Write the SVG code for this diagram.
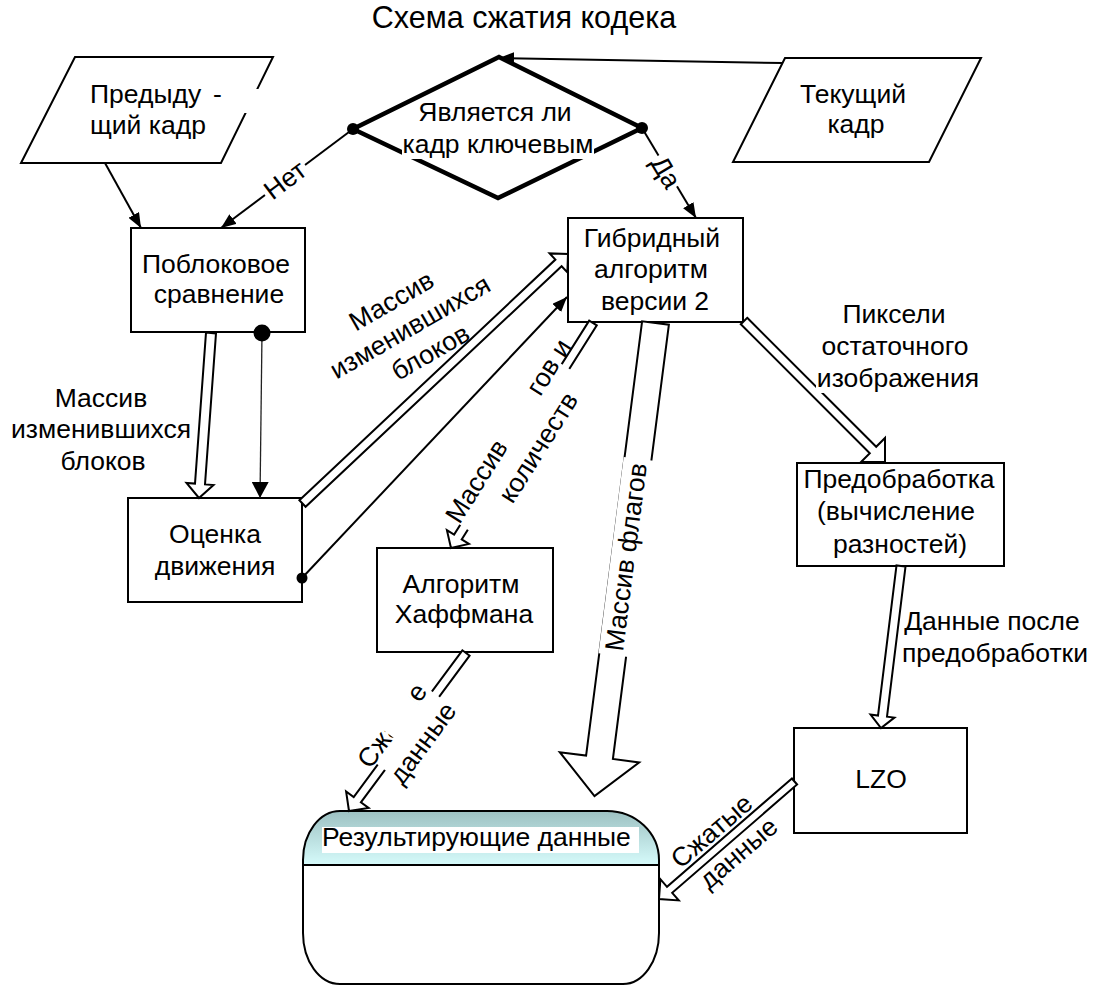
<svg xmlns="http://www.w3.org/2000/svg" width="1099" height="985" viewBox="0 0 1099 985">
  <defs>
    <style>
      .t { font-family: "Liberation Sans", Arial, sans-serif; font-size: 26.5px; fill: #000; }
      .m { text-anchor: middle; }
      .box { fill: #fff; stroke: #000; stroke-width: 2; }
      .wire { fill: none; stroke: #000; stroke-width: 2; }
      .thin { fill: none; stroke: #222; stroke-width: 1.3; }
      .hollow { fill: #fff; stroke: #000; stroke-width: 2; stroke-linejoin: miter; }
      .bg { fill: #fff; }
      .dot { fill: #000; }
    </style>
    <marker id="head" markerUnits="userSpaceOnUse" viewBox="0 0 15 12" refX="15" refY="6" markerWidth="15" markerHeight="12" orient="auto">
      <path d="M0,0 L15,6 L0,12 Z" fill="#000"/>
    </marker>
    <marker id="headBig" markerUnits="userSpaceOnUse" viewBox="0 0 16 17" refX="16" refY="8.5" markerWidth="16" markerHeight="17" orient="auto">
      <path d="M0,0 L16,8.5 L0,17 Z" fill="#000"/>
    </marker>
    <linearGradient id="capFill" x1="0" y1="0" x2="0" y2="1">
      <stop offset="0" stop-color="#9dc1c2"/>
      <stop offset="1" stop-color="#d6fbfb"/>
    </linearGradient>
    <clipPath id="clipFlagsLine">
      <path d="M-160,-60H-15V60H-160Z M47,-60H160V60H47Z"/>
    </clipPath>
    <clipPath id="clipSqueezedLine">
      <path d="M-90,-60H-9V60H-90Z M33,-60H90V60H33Z"/>
    </clipPath>
  </defs>

  <rect width="1099" height="985" fill="#fff"/>

  <text class="t m" x="524" y="28" style="font-size:30.5px">Схема сжатия кодека</text>

  <!-- nodes -->
  <g id="prev-frame">
    <polygon class="box" points="75,57 273,57 221,163 21,163"/>
    <rect class="bg" x="86" y="89" width="174" height="24"/>
    <text class="t" x="90" y="103">Предыду <tspan x="213">-</tspan></text>
    <text class="t" x="90" y="134">щий кадр</text>
  </g>

  <g id="is-key-frame">
    <polygon points="499,57 642,128 498,198 353,129" fill="#fff" stroke="#000" stroke-width="4.5" stroke-linejoin="miter"/>
    <rect class="bg" x="402" y="134" width="192" height="25"/>
    <text class="t m" x="495" y="121">Является ли</text>
    <text class="t m" x="498" y="153">кадр ключевым</text>
  </g>

  <g id="current-frame">
    <polygon class="box" points="785,58 981,58 929,162 733,162"/>
    <text class="t m" x="853" y="103">Текущий</text>
    <text class="t m" x="856" y="133">кадр</text>
  </g>

  <g id="block-compare">
    <rect class="box" x="131" y="228" width="174" height="104"/>
    <text class="t m" x="216" y="273">Поблоковое</text>
    <text class="t m" x="219" y="303">сравнение</text>
  </g>

  <g id="motion-estimation">
    <rect class="box" x="128" y="498" width="174" height="104"/>
    <text class="t m" x="215" y="543">Оценка</text>
    <text class="t m" x="215" y="575">движения</text>
  </g>

  <g id="hybrid-algorithm">
    <rect class="box" x="568" y="218" width="175" height="104"/>
    <text class="t m" x="652" y="247">Гибридный</text>
    <text class="t m" x="651" y="278">алгоритм</text>
    <text class="t m" x="655" y="310">версии 2</text>
  </g>

  <g id="huffman">
    <rect class="box" x="377" y="548" width="176" height="104"/>
    <text class="t m" x="461" y="593">Алгоритм</text>
    <text class="t m" x="464" y="623">Хаффмана</text>
  </g>

  <g id="preprocessing">
    <rect class="box" x="797" y="463" width="207" height="103"/>
    <text class="t m" x="899" y="488">Предобработка</text>
    <text class="t m" x="896" y="520">(вычисление</text>
    <text class="t m" x="900" y="553">разностей)</text>
  </g>

  <g id="lzo">
    <rect class="box" x="794" y="728" width="173" height="105"/>
    <text class="t m" x="881" y="788">LZO</text>
  </g>

  <g id="result-data">
    <path d="M303,860 A37,49 0 0 1 340,811 H607 A52,49 0 0 1 659,860 V933 A36,51 0 0 1 623,984 H340 A37,51 0 0 1 303,933 Z" fill="#fff"/>
    <path d="M303,865 V860 A37,49 0 0 1 340,811 H607 A52,49 0 0 1 659,860 V865 Z" fill="url(#capFill)"/>
    <path d="M303,860 A37,49 0 0 1 340,811 H607 A52,49 0 0 1 659,860 V933 A36,51 0 0 1 623,984 H340 A37,51 0 0 1 303,933 Z" fill="none" stroke="#000" stroke-width="2"/>
    <line x1="303" y1="865" x2="659" y2="865" stroke="#000" stroke-width="2"/>
    <rect class="bg" x="322" y="827" width="317" height="26"/>
    <text class="t" x="322" y="846">Результирующие данные</text>
  </g>

  <!-- connectors -->
  <g id="connectors">
    <!-- plain arrows -->
    <line class="wire" x1="105" y1="163" x2="141" y2="228" marker-end="url(#head)"/>
    <line class="wire" x1="353" y1="129" x2="221" y2="228" marker-end="url(#head)"/>
    <line class="wire" x1="642" y1="128" x2="696" y2="218" marker-end="url(#head)"/>
    <line class="wire" x1="783" y1="63" x2="499" y2="58" marker-end="url(#head)"/>
    <line class="wire" x1="302" y1="578" x2="567" y2="297" marker-end="url(#head)"/>
    <line class="thin" x1="262" y1="333" x2="260" y2="498" marker-end="url(#headBig)"/>

    <!-- block arrows -->
    <path class="hollow" d="M206,332.6 L195,483.6 L186.5,483 L199,498 L213.5,485 L205,484.4 L216,333.4 Z"/>
    <path class="hollow" d="M299.4,500.2 L555.4,259.6 L549.6,253.4 L568,254 L567.4,272.4 L561.6,266.2 L305.6,506.8 Z"/>
    <path class="hollow" d="M589.2,320.6 L454.1,534.6 L446.9,530.1 L451,548 L468.9,543.9 L461.7,539.4 L596.8,325.4 Z"/>
    <path class="hollow" d="M747.2,317.8 L876.2,446.8 L885,438 L885,462 L861,462 L869.8,453.2 L740.8,324.2 Z"/>
    <path class="hollow" d="M896.5,565.4 L878,715.6 L870.6,714.6 L881,728 L894.4,717.6 L887,716.7 L905.5,566.6 Z"/>
    <path class="hollow" d="M791.9,778.5 L667,886.8 L660.4,879.2 L659,899 L678.8,900.4 L672.2,892.8 L797.1,784.5 Z"/>
    <path class="hollow" d="M462.4,650.3 L353.7,797 L346.1,791.4 L349,811 L368.6,808 L360.9,802.4 L469.6,655.7 Z"/>
    <path class="hollow" d="M642.1,321.3 L586.1,755.6 L559.8,752.2 L594.5,796 L639.2,762.4 L612.9,759 L668.9,324.7 Z"/>

    <!-- labels -->
    <g transform="translate(285,180) rotate(-37)">
      <rect class="bg" x="-25" y="-13" width="50" height="26"/>
      <text class="t m" x="0" y="9">Нет</text>
    </g>
    <g transform="translate(666,172) rotate(59)">
      <rect class="bg" x="-18" y="-13" width="36" height="26"/>
      <text class="t m" x="0" y="9">Да</text>
    </g>

    <text class="t m" x="101" y="407">Массив</text>
    <text class="t m" x="101" y="438">изменившихся</text>
    <text class="t m" x="103" y="470">блоков</text>

    <g transform="translate(410,327) rotate(-30)">
      <text class="t m" x="-3" y="-23">Массив</text>
      <text class="t m" x="0" y="9">изменившихся</text>
      <text class="t m" x="5" y="41">блоков</text>
    </g>

    <g transform="translate(521,439) rotate(-57.7)">
      <rect class="bg" x="-105" y="-32" width="190" height="66"/>
      <text class="t m" x="0" y="-6" clip-path="url(#clipFlagsLine)">Массив флагов и</text>
      <text class="t m" x="2" y="28">количеств</text>
    </g>

    <g transform="translate(626,557) rotate(-82.7)">
      <rect class="bg" x="-99" y="-15" width="198" height="30"/>
      <text class="t m" x="0" y="9">Массив флагов</text>
    </g>

    <rect class="bg" x="816" y="300" width="164" height="93"/>
    <text class="t m" x="894" y="323">Пиксели</text>
    <text class="t m" x="895" y="355">остаточного</text>
    <text class="t m" x="898" y="387">изображения</text>

    <text class="t m" x="992" y="630">Данные после</text>
    <text class="t m" x="995" y="662">предобработки</text>

    <g transform="translate(405,735) rotate(-53.5)">
      <rect class="bg" x="-40" y="-32" width="91" height="64"/>
      <text class="t m" x="0" y="-7" clip-path="url(#clipSqueezedLine)">Сжатые</text>
      <text class="t m" x="4" y="28">данные</text>
    </g>

    <g transform="translate(725,842) rotate(-40.6)">
      <text class="t m" x="-3" y="-8">Сжатые</text>
      <text class="t m" x="3" y="26">данные</text>
    </g>

    <!-- connection dots -->
    <circle class="dot" cx="353" cy="129" r="6"/>
    <circle class="dot" cx="642" cy="128" r="6"/>
    <circle class="dot" cx="262" cy="333" r="8.5"/>
    <circle class="dot" cx="302" cy="578" r="5.5"/>
  </g>
</svg>
